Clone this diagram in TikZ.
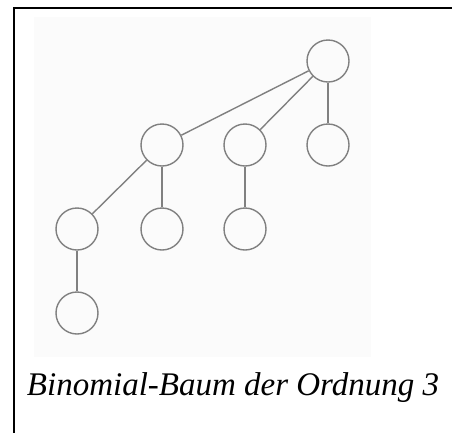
\documentclass[tikz,border=0pt]{standalone}
\usepackage{fontspec}
\setmainfont{Liberation Serif}
\begin{document}
\begin{tikzpicture}[x=1pt,y=-1pt,
  vtx/.style={circle,draw=black!50,line width=1.4pt,minimum size=42pt,inner sep=0pt,fill=none},
  edge/.style={draw=black!50,line width=1.4pt}]
\useasboundingbox (0,0) rectangle (452,432);
\fill[white] (0,0) rectangle (452,432);
\fill[black!1.5] (34,17) rectangle (371,357);
\draw[line width=1.4pt] (14,440) -- (14,8) -- (460,8);
\node[vtx] (r) at (328,61) {};
\node[vtx] (a) at (162,145) {};
\node[vtx] (b) at (245,145) {};
\node[vtx] (c) at (328,145) {};
\node[vtx] (d) at (77,229) {};
\node[vtx] (e) at (162,229) {};
\node[vtx] (f) at (245,229) {};
\node[vtx] (g) at (77,313) {};
\draw[edge] (r) -- (a);
\draw[edge] (r) -- (b);
\draw[edge] (r) -- (c);
\draw[edge] (a) -- (d);
\draw[edge] (a) -- (e);
\draw[edge] (b) -- (f);
\draw[edge] (d) -- (g);
\node[anchor=base,font=\fontsize{33}{36}\selectfont\itshape,inner sep=0pt] (cap) at (233,395) {Binomial-Baum der Ordnung 3};
\end{tikzpicture}
\end{document}
